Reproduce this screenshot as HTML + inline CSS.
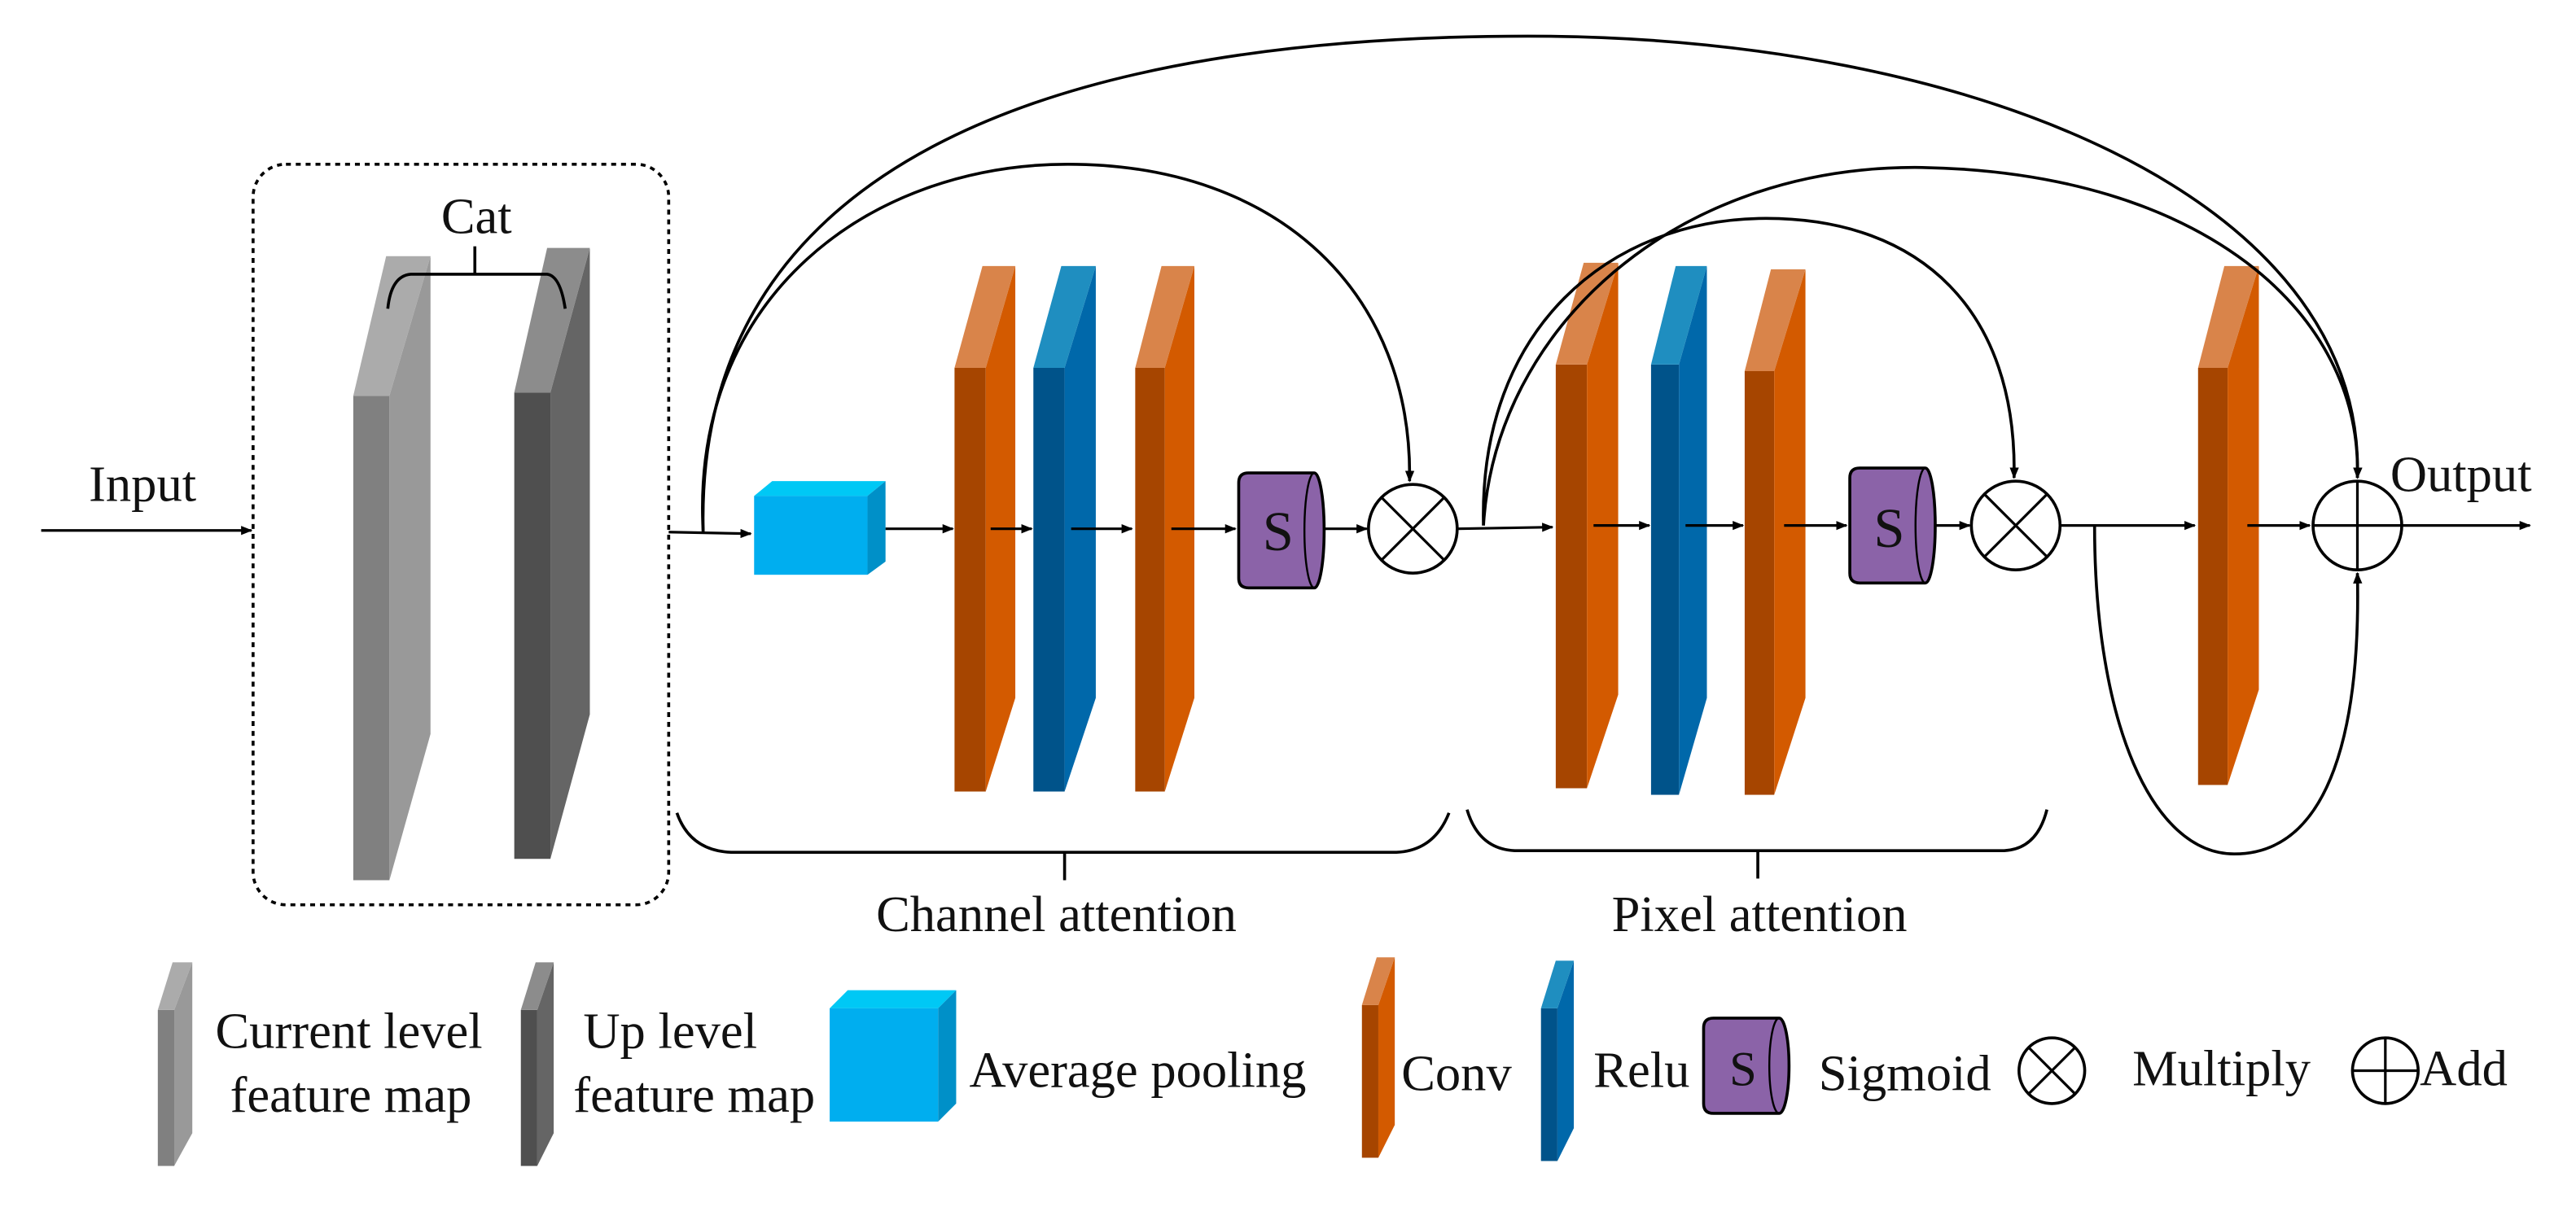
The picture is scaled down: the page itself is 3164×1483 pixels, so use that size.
<!DOCTYPE html>
<html><head><meta charset="utf-8"><style>
html,body{margin:0;padding:0;background:#fff;}
svg{display:block;}
text{font-family:"Liberation Serif",serif;fill:#111;}
</style></head><body>
<svg width="3164" height="1483" viewBox="0 0 1568 735" xmlns="http://www.w3.org/2000/svg">
<defs>
<marker id="ar2" viewBox="0 0 10 10" refX="9" refY="5" markerWidth="7" markerHeight="7" orient="auto" markerUnits="userSpaceOnUse"><path d="M0,1 L10,5 L0,9 Z" fill="#000"/></marker>
</defs>

<text x="54" y="305" font-size="31">Input</text>
<line x1="25" y1="323" x2="153" y2="323" stroke="#000" stroke-width="1.6" marker-end="url(#ar2)"/>
<rect x="154" y="100" width="253" height="451" rx="20" fill="none" stroke="#000" stroke-width="1.8" stroke-dasharray="3,3"/>

<g>
<rect x="215" y="241" width="22" height="295" fill="#808080"/>
<polygon points="237,241 262,156 262,447 237,536" fill="#999"/>
<polygon points="215,241 235,156 262,156 237,241" fill="#ababab"/>
<rect x="313" y="239" width="22" height="284" fill="#4f4f4f"/>
<polygon points="335,239 359,151 359,435 335,523" fill="#656565"/>
<polygon points="313,239 333,151 359,151 335,239" fill="#8c8c8c"/>
</g>
<text x="290" y="142" font-size="31" text-anchor="middle">Cat</text>
<path d="M236,188 Q238,168 250,167 L333,167 Q341,168 344,188" fill="none" stroke="#000" stroke-width="1.8"/>
<line x1="289" y1="167" x2="289" y2="150" stroke="#000" stroke-width="1.8"/>

<line x1="407" y1="324" x2="457" y2="325" stroke="#000" stroke-width="1.6" marker-end="url(#ar2)"/>
<polygon points="459,302 470,293 539,293 528,302" fill="#00c8f5"/>
<polygon points="528,302 539,293 539,342 528,350" fill="#0090c8"/>
<rect x="459" y="302" width="69" height="48" fill="#00aeef"/>
<line x1="539" y1="322" x2="580" y2="322" stroke="#000" stroke-width="1.6" marker-end="url(#ar2)"/>

<g>
<rect x="581" y="224" width="19" height="258" fill="#a64500"/>
<polygon points="600,224 618,162 618,425 600,482" fill="#d35a00"/>
<polygon points="581,224 598,162 618,162 600,224" fill="#d9844a"/>
<rect x="629" y="224" width="19" height="258" fill="#00538a"/>
<polygon points="648,224 667,162 667,425 648,482" fill="#0068aa"/>
<polygon points="629,224 646,162 667,162 648,224" fill="#1f8ec0"/>
<rect x="691" y="224" width="18" height="258" fill="#a64500"/>
<polygon points="709,224 727,162 727,425 709,482" fill="#d35a00"/>
<polygon points="691,224 707,162 727,162 709,224" fill="#d9844a"/>
</g>
<line x1="603" y1="322" x2="628" y2="322" stroke="#000" stroke-width="1.6" marker-end="url(#ar2)"/>
<line x1="652" y1="322" x2="689" y2="322" stroke="#000" stroke-width="1.6" marker-end="url(#ar2)"/>
<line x1="713" y1="322" x2="752" y2="322" stroke="#000" stroke-width="1.6" marker-end="url(#ar2)"/>
<path d="M760,288 L800,288 A6,35 0 0 1 800,358 L760,358 Q754,358 754,352 L754,294 Q754,288 760,288 Z" fill="#8b63a8" stroke="#000" stroke-width="1.8"/>
<path d="M800,288 A6,35 0 0 0 800,358" fill="none" stroke="#000" stroke-width="1.2"/>
<text x="778" y="335" font-size="34" text-anchor="middle">S</text>
<line x1="806" y1="322" x2="832" y2="322" stroke="#000" stroke-width="1.6" marker-end="url(#ar2)"/>
<circle cx="860" cy="322" r="27" fill="#fff" stroke="#000" stroke-width="1.8"/>
<line x1="841" y1="303" x2="879" y2="341" stroke="#000" stroke-width="1.6"/>
<line x1="879" y1="303" x2="841" y2="341" stroke="#000" stroke-width="1.6"/>
<line x1="887" y1="322" x2="945" y2="321" stroke="#000" stroke-width="1.6" marker-end="url(#ar2)"/>

<g>
<rect x="947" y="222" width="19" height="258" fill="#a64500"/>
<polygon points="966,222 985,160 985,423 966,480" fill="#d35a00"/>
<polygon points="947,222 964,160 985,160 966,222" fill="#d9844a"/>
<rect x="1005" y="222" width="17" height="262" fill="#00538a"/>
<polygon points="1022,222 1039,162 1039,425 1022,484" fill="#0068aa"/>
<polygon points="1005,222 1020,162 1039,162 1022,222" fill="#1f8ec0"/>
<rect x="1062" y="226" width="18" height="258" fill="#a64500"/>
<polygon points="1080,226 1099,164 1099,425 1080,484" fill="#d35a00"/>
<polygon points="1062,226 1078,164 1099,164 1080,226" fill="#d9844a"/>
</g>
<line x1="970" y1="320" x2="1004" y2="320" stroke="#000" stroke-width="1.6" marker-end="url(#ar2)"/>
<line x1="1026" y1="320" x2="1061" y2="320" stroke="#000" stroke-width="1.6" marker-end="url(#ar2)"/>
<line x1="1086" y1="320" x2="1124" y2="320" stroke="#000" stroke-width="1.6" marker-end="url(#ar2)"/>
<path d="M1132,285 L1172,285 A6,35 0 0 1 1172,355 L1132,355 Q1126,355 1126,349 L1126,291 Q1126,285 1132,285 Z" fill="#8b63a8" stroke="#000" stroke-width="1.8"/>
<path d="M1172,285 A6,35 0 0 0 1172,355" fill="none" stroke="#000" stroke-width="1.2"/>
<text x="1150" y="333" font-size="34" text-anchor="middle">S</text>
<line x1="1178" y1="320" x2="1199" y2="320" stroke="#000" stroke-width="1.6" marker-end="url(#ar2)"/>
<circle cx="1227" cy="320" r="27" fill="#fff" stroke="#000" stroke-width="1.8"/>
<line x1="1208" y1="301" x2="1246" y2="339" stroke="#000" stroke-width="1.6"/>
<line x1="1246" y1="301" x2="1208" y2="339" stroke="#000" stroke-width="1.6"/>
<line x1="1254" y1="320" x2="1336" y2="320" stroke="#000" stroke-width="1.6" marker-end="url(#ar2)"/>

<rect x="1338" y="224" width="18" height="254" fill="#a64500"/>
<polygon points="1356,224 1375,162 1375,420 1356,478" fill="#d35a00"/>
<polygon points="1338,224 1354,162 1375,162 1356,224" fill="#d9844a"/>
<line x1="1368" y1="320" x2="1406" y2="320" stroke="#000" stroke-width="1.6" marker-end="url(#ar2)"/>
<circle cx="1435" cy="320" r="27" fill="#fff" stroke="#000" stroke-width="1.8"/>
<line x1="1408" y1="320" x2="1462" y2="320" stroke="#000" stroke-width="1.6"/>
<line x1="1435" y1="293" x2="1435" y2="347" stroke="#000" stroke-width="1.6"/>
<line x1="1462" y1="320" x2="1540" y2="320" stroke="#000" stroke-width="1.6" marker-end="url(#ar2)"/>
<text x="1455" y="299" font-size="31">Output</text>

<g fill="none" stroke="#000" stroke-width="1.8">
<path d="M428,324 C422,90 660,22 930,22 C1200,22 1440,120 1435,291" marker-end="url(#ar2)"/>
<path d="M428,324 C420,180 530,100 650,100 C780,100 860,180 858,293" marker-end="url(#ar2)"/>
<path d="M903,320 C900,200 980,133 1075,133 C1170,133 1228,190 1226,291" marker-end="url(#ar2)"/>
<path d="M903,320 C910,200 1020,100 1170,102 C1340,105 1438,190 1435,291" marker-end="url(#ar2)"/>
<path d="M1275,320 C1275,440 1310,520 1360,520 C1420,520 1437,440 1435,349" marker-end="url(#ar2)"/>
</g>

<g fill="none" stroke="#000" stroke-width="1.8">
<path d="M412,495 Q420,518 445,519 L850,519 Q873,518 882,495"/>
<line x1="648" y1="519" x2="648" y2="536"/>
<path d="M893,493 Q900,517 922,518 L1220,518 Q1240,517 1246,493"/>
<line x1="1070" y1="518" x2="1070" y2="535"/>
</g>
<text x="643" y="567" font-size="31" text-anchor="middle">Channel attention</text>
<text x="1071" y="567" font-size="31" text-anchor="middle">Pixel attention</text>

<rect x="96" y="615" width="10" height="95" fill="#808080"/>
<polygon points="106,615 117,586 117,690 106,710" fill="#999"/>
<polygon points="96,615 105,586 117,586 106,615" fill="#ababab"/>
<text x="131" y="638" font-size="31">Current level</text>
<text x="140" y="677" font-size="31">feature map</text>

<rect x="317" y="615" width="10" height="95" fill="#4f4f4f"/>
<polygon points="327,615 337,586 337,690 327,710" fill="#656565"/>
<polygon points="317,615 326,586 337,586 327,615" fill="#8c8c8c"/>
<text x="355" y="638" font-size="31">Up  level</text>
<text x="349" y="677" font-size="31">feature map</text>

<polygon points="505,614 516,603 582,603 571,614" fill="#00c8f5"/>
<polygon points="571,614 582,603 582,672 571,683" fill="#0090c8"/>
<rect x="505" y="614" width="66" height="69" fill="#00aeef"/>
<text x="590" y="662" font-size="31">Average pooling</text>

<rect x="829" y="612" width="10" height="93" fill="#a64500"/>
<polygon points="839,612 849,583 849,685 839,705" fill="#d35a00"/>
<polygon points="829,612 838,583 849,583 839,612" fill="#d9844a"/>
<text x="853" y="664" font-size="31">Conv</text>

<rect x="938" y="614" width="10" height="93" fill="#00538a"/>
<polygon points="948,614 958,585 958,687 948,707" fill="#0068aa"/>
<polygon points="938,614 947,585 958,585 948,614" fill="#1f8ec0"/>
<text x="970" y="662" font-size="31">Relu</text>

<path d="M1043,620 L1083,620 A6,29 0 0 1 1083,678 L1043,678 Q1037,678 1037,672 L1037,626 Q1037,620 1043,620 Z" fill="#8b63a8" stroke="#000" stroke-width="1.8"/>
<path d="M1083,620 A6,29 0 0 0 1083,678" fill="none" stroke="#000" stroke-width="1.2"/>
<text x="1061" y="661" font-size="30" text-anchor="middle">S</text>
<text x="1107" y="664" font-size="31">Sigmoid</text>

<circle cx="1249" cy="652" r="20" fill="#fff" stroke="#000" stroke-width="1.8"/>
<line x1="1235" y1="638" x2="1263" y2="666" stroke="#000" stroke-width="1.6"/>
<line x1="1263" y1="638" x2="1235" y2="666" stroke="#000" stroke-width="1.6"/>
<text x="1298" y="661" font-size="31">Multiply</text>

<circle cx="1452" cy="652" r="20" fill="#fff" stroke="#000" stroke-width="1.8"/>
<line x1="1432" y1="652" x2="1472" y2="652" stroke="#000" stroke-width="1.6"/>
<line x1="1452" y1="632" x2="1452" y2="672" stroke="#000" stroke-width="1.6"/>
<text x="1473" y="661" font-size="31">Add</text>
</svg>
</body></html>
